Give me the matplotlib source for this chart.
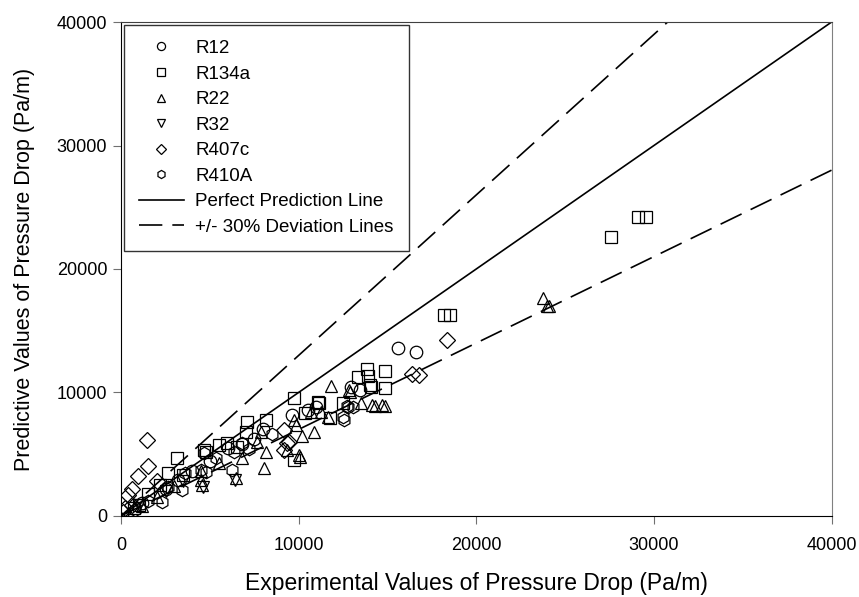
import numpy as np
import matplotlib
matplotlib.use("Agg")
import matplotlib.pyplot as plt

plt.rcParams['font.family'] = ['Liberation Sans', 'DejaVu Sans']

# Datos (Pa/m): experimental, predicho
r12_exp = [15570, 16630, 12950, 13450, 9600, 11000, 8000, 6000, 7500, 4000, 3200, 2500, 1200, 5000, 10500, 6800]
r12_pred = [13610, 13280, 10450, 10210, 8180, 8800, 7000, 5500, 6200, 3600, 2900, 2200, 1000, 4400, 8600, 5800]

r134a_exp = [27570, 29130, 29570, 18190, 18520, 13840, 13340, 14840, 14010, 14840, 13900, 14060,
             9710, 11160, 12500, 10380, 11770, 7090, 8150, 7030, 9710, 5520, 4800, 5970, 3120,
             2620, 4690, 1500, 1000, 2200, 700, 11100, 3500, 6500]
r134a_pred = [22600, 24220, 24220, 16280, 16280, 11900, 11260, 11750, 10610, 10370, 11340, 10450,
              9560, 9150, 9150, 8340, 7940, 7610, 7780, 6800, 4540, 5750, 5180, 5910, 4700,
              3480, 5350, 1800, 900, 2500, 600, 9230, 3300, 5600]

r22_exp = [23770, 23990, 24100, 11830, 12890, 14120, 13500, 14280, 14840, 12830, 14680, 10710,
           11270, 11660, 10880, 10160, 9820, 10100, 9990, 7870, 8150, 8040, 6810, 6470, 7640,
           9710, 9320, 4520, 4580, 2000, 3000, 1200, 5500, 4500]
r22_pred = [17660, 17010, 17010, 10530, 10040, 8990, 9150, 8910, 8910, 10210, 8990, 8420,
            8420, 8020, 6800, 6480, 7370, 4780, 4940, 6800, 5180, 3890, 4700, 3080, 5990,
            7780, 5350, 2920, 2510, 1500, 2400, 800, 4300, 3600]

r32_exp = [1000, 2500, 4600, 3500, 6400]
r32_pred = [900, 2000, 2300, 2800, 2900]

r407c_exp = [18360, 16400, 16800, 1450, 1510, 950, 610, 390, 220, 9150, 9430, 9150, 9320, 100, 600, 2000]
r407c_pred = [14260, 11500, 11420, 6160, 4050, 3240, 2190, 1700, 650, 6970, 5990, 5350, 5910, 300, 900, 2800]

r410a_exp = [12720, 13060, 12500, 12780, 12560, 6810, 5360, 6360, 4800, 4690, 6250, 3570, 4520,
             2620, 2290, 3400, 1500, 800, 8500, 7200]
r410a_pred = [8910, 8830, 8020, 8830, 7780, 5910, 4700, 5180, 3560, 5100, 3730, 3480, 3730,
              2350, 1130, 2110, 1200, 500, 6600, 5400]

series = [
    ("R12", r12_exp, r12_pred, "o"),
    ("R134a", r134a_exp, r134a_pred, "s"),
    ("R22", r22_exp, r22_pred, "^"),
    ("R32", r32_exp, r32_pred, "v"),
    ("R407c", r407c_exp, r407c_pred, "D"),
    ("R410A", r410a_exp, r410a_pred, "h"),
]

fig = plt.figure(figsize=(8.59, 5.97), dpi=100)
ax = fig.add_axes([0.141, 0.136, 0.827, 0.827])

for nombre, xe, yp, m in series:
    ms = 9 if m != "D" else 8
    ax.plot(xe, yp, linestyle="none", marker=m, markersize=ms, markerfacecolor="none",
            markeredgecolor="black", markeredgewidth=0.9, label=nombre)

# lineas de referencia
xl = np.array([0, 40000])
ax.plot(xl, xl, color="black", linewidth=1.2, label="Perfect Prediction Line")
ax.plot([0, 40000 / 1.3], [0, 40000], color="black", linewidth=1.2,
        dashes=(14, 6), label="+/- 30% Deviation Lines")
ax.plot(xl, 0.7 * xl, color="black", linewidth=1.2, dashes=(14, 6))

ax.set_xlim(0, 40000)
ax.set_ylim(0, 40000)
ax.set_xticks([0, 10000, 20000, 30000, 40000])
ax.set_yticks([0, 10000, 20000, 30000, 40000])
ax.tick_params(labelsize=13, direction="out", length=6, color="#707070")
ax.tick_params(axis="x", pad=9)
ax.tick_params(axis="y", pad=4)
ax.spines["right"].set_color("#808080")
ax.spines["top"].set_color("#404040")

ax.set_xlabel("Experimental Values of Pressure Drop (Pa/m)", fontsize=16.5, labelpad=13)
ax.set_ylabel("Predictive Values of Pressure Drop (Pa/m)", fontsize=15.5, labelpad=16)

leg = ax.legend(loc="upper left", fontsize=13.5, markerscale=0.65, frameon=True, fancybox=False,
                edgecolor="black", borderaxespad=0.15, handlelength=2.4, labelspacing=0.45,
                borderpad=0.8, handletextpad=0.6)
leg.get_frame().set_linewidth(1.0)

fig.savefig("out.png", dpi=100)
